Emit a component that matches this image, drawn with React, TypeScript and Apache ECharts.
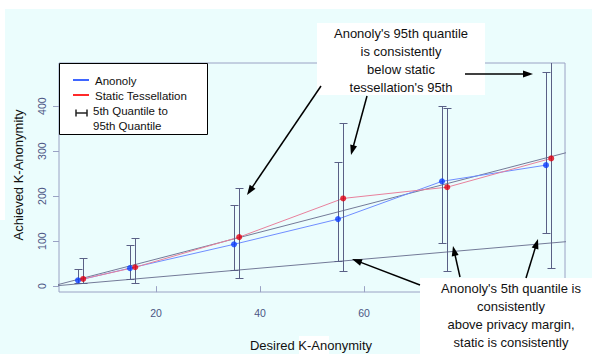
import React, { useEffect, useRef } from 'react';
import * as echarts from 'echarts';

// Anonoly (blue)
const anonK = [5, 15, 35, 55, 75, 95];
const anonMed = [13, 40, 93, 149, 233, 269];
const anonP5 = [7, 15, 36, 56, 95, 118];
const anonP95 = [38, 91, 180, 276, 400, 476];
// Static Tessellation (red)
const staticK = [6, 16, 36, 56, 76, 96];
const staticMed = [16, 42, 109, 195, 220, 284];
const staticP5 = [6, 7, 18, 33, 33, 40];
const staticP95 = [62, 107, 218, 363, 395, 520];
// reference lines: privacy margin y = x and y = 3x
const refX = [0, 100];
const marginY = [0, 100];
const tripleY = [0, 300];

const xTicks = [20, 40, 60, 80];
const yTicks = [0, 100, 200, 300, 400];

const FONT = '"Liberation Sans", Arial, Helvetica, sans-serif';
const AXIS_COLOR = '#9aa2c4';
const LABEL_COLOR = '#4b5584';
const BAR_COLOR = '#5a6086';

function arrow(x1: number, y1: number, x2: number, y2: number) {
  const dx = x2 - x1;
  const dy = y2 - y1;
  const len = Math.hypot(dx, dy);
  const ux = dx / len;
  const uy = dy / len;
  const hl = 10;
  const hw = 3.5;
  const bx = x2 - ux * hl;
  const by = y2 - uy * hl;
  return [
    {
      type: 'line',
      z: 110,
      shape: { x1, y1, x2: bx + ux * 2, y2: by + uy * 2 },
      style: { stroke: '#000', lineWidth: 1.5 },
    },
    {
      type: 'polygon',
      z: 111,
      shape: {
        points: [
          [x2, y2],
          [bx - uy * hw, by + ux * hw],
          [bx + uy * hw, by - ux * hw],
        ],
      },
      style: { fill: '#000' },
    },
  ];
}

function errorSeries(name: string, ks: number[], lo: number[], hi: number[]) {
  return {
    type: 'custom',
    name,
    clip: true,
    z: 3,
    data: ks.map((k, i) => [k, lo[i], hi[i]]),
    encode: { x: 0, y: [1, 2] },
    renderItem: (params: any, api: any) => {
      const x = api.value(0);
      const p1 = api.coord([x, api.value(1)]);
      const p2 = api.coord([x, api.value(2)]);
      const cx = Math.round(p1[0]) + 0.5;
      const y1 = Math.round(p1[1]) + 0.5;
      const y2 = Math.round(p2[1]) + 0.5;
      const w = 4;
      const style = { stroke: BAR_COLOR, lineWidth: 1, fill: null };
      return {
        type: 'group',
        children: [
          { type: 'line', shape: { x1: cx, y1, x2: cx, y2 }, style },
          { type: 'line', shape: { x1: cx - w, y1, x2: cx + w, y2: y1 }, style },
          { type: 'line', shape: { x1: cx - w, y1: y2, x2: cx + w, y2 }, style },
        ],
      };
    },
  };
}

function textLines(lines: string[], cx: number, y0: number, lh: number, size: number) {
  return lines.map((t, i) => ({
    type: 'text',
    z: 105,
    x: cx,
    y: y0 + i * lh,
    style: {
      text: t,
      fill: '#111',
      font: `${size}px ${FONT}`,
      textAlign: 'center',
      textVerticalAlign: 'middle',
    },
  }));
}

export default function App() {
  const ref = useRef<HTMLDivElement>(null);

  useEffect(() => {
    if (!ref.current) return;
    const chart = echarts.init(ref.current, undefined, { renderer: 'svg' });

    const legendText = (t: string, x: number, y: number) => ({
      type: 'text',
      z: 102,
      x,
      y,
      style: { text: t, fill: '#111', font: `11.5px ${FONT}`, textVerticalAlign: 'middle' },
    });

    const option: any = {
      animation: false,
      backgroundColor: '#ebfdfd',
      grid: {
        left: 59,
        top: 63,
        right: 27,
        bottom: 62,
        show: true,
        borderColor: AXIS_COLOR,
        borderWidth: 1,
        backgroundColor: 'transparent',
      },
      xAxis: {
        type: 'value',
        min: 1.35,
        max: 98.65,
        axisLine: { show: false },
        splitLine: { show: false },
        axisTick: { show: true, customValues: xTicks, length: 6, lineStyle: { color: AXIS_COLOR } },
        axisLabel: {
          customValues: xTicks,
          color: LABEL_COLOR,
          fontSize: 10.5,
          fontFamily: FONT,
          margin: 15,
        },
      },
      yAxis: {
        type: 'value',
        min: -13,
        max: 496,
        axisLine: { show: false },
        splitLine: { show: false },
        axisTick: { show: true, customValues: yTicks, length: 6, lineStyle: { color: AXIS_COLOR } },
        axisLabel: {
          customValues: yTicks,
          rotate: 90,
          color: LABEL_COLOR,
          fontSize: 10.5,
          fontFamily: FONT,
          margin: 12,
        },
      },
      series: [
        {
          type: 'line',
          name: 'margin',
          data: refX.map((x, i) => [x, marginY[i]]),
          symbol: 'none',
          clip: true,
          lineStyle: { color: '#737a98', width: 1 },
          z: 1,
        },
        {
          type: 'line',
          name: 'triple',
          data: refX.map((x, i) => [x, tripleY[i]]),
          symbol: 'none',
          clip: true,
          lineStyle: { color: '#737a98', width: 1 },
          z: 1,
        },
        {
          type: 'line',
          name: 'Anonoly line',
          data: anonK.map((k, i) => [k, anonMed[i]]),
          symbol: 'none',
          clip: true,
          lineStyle: { color: '#6f8dff', width: 1 },
          z: 2,
        },
        {
          type: 'line',
          name: 'Static line',
          data: staticK.map((k, i) => [k, staticMed[i]]),
          symbol: 'none',
          clip: true,
          lineStyle: { color: '#e8809c', width: 1 },
          z: 2,
        },
        errorSeries('Anonoly bars', anonK, anonP5, anonP95),
        errorSeries('Static bars', staticK, staticP5, staticP95),
        {
          type: 'scatter',
          name: 'Anonoly',
          data: anonK.map((k, i) => [k, anonMed[i]]),
          symbol: 'circle',
          symbolSize: 6,
          itemStyle: { color: '#0a3cff' },
          z: 5,
        },
        {
          type: 'scatter',
          name: 'Static Tessellation',
          data: staticK.map((k, i) => [k, staticMed[i]]),
          symbol: 'circle',
          symbolSize: 6,
          itemStyle: { color: '#e00010' },
          z: 5,
        },
      ],
      graphic: [
        // white margins of the original figure
        { type: 'rect', z: 50, shape: { x: 0, y: 0, width: 592, height: 9 }, style: { fill: '#fff' } },
        { type: 'rect', z: 50, shape: { x: 0, y: 0, width: 5, height: 220 }, style: { fill: '#fff' } },
        { type: 'rect', z: 50, shape: { x: 299, y: 336, width: 30, height: 18 }, style: { fill: '#fff' } },
        // axis titles
        {
          type: 'text',
          z: 60,
          x: 311,
          y: 345,
          style: {
            text: 'Desired K-Anonymity',
            fill: '#111',
            font: `13px ${FONT}`,
            textAlign: 'center',
            textVerticalAlign: 'middle',
          },
        },
        {
          type: 'text',
          z: 60,
          x: 18,
          y: 175,
          rotation: Math.PI / 2,
          style: {
            text: 'Achieved K-Anonymity',
            fill: '#111',
            font: `13px ${FONT}`,
            textAlign: 'center',
            textVerticalAlign: 'middle',
          },
        },
        // legend
        {
          type: 'rect',
          z: 100,
          shape: { x: 59.5, y: 63.5, width: 148, height: 71 },
          style: { fill: '#fff', stroke: '#000', lineWidth: 1 },
        },
        { type: 'line', z: 101, shape: { x1: 73, y1: 80, x2: 89, y2: 80 }, style: { stroke: '#3f66ff', lineWidth: 2 } },
        { type: 'line', z: 101, shape: { x1: 73, y1: 95, x2: 89, y2: 95 }, style: { stroke: '#ff2a2a', lineWidth: 2 } },
        { type: 'line', z: 101, shape: { x1: 76, y1: 113, x2: 87, y2: 113 }, style: { stroke: '#222', lineWidth: 1.5 } },
        { type: 'line', z: 101, shape: { x1: 76, y1: 109.5, x2: 76, y2: 116.5 }, style: { stroke: '#222', lineWidth: 1.5 } },
        { type: 'line', z: 101, shape: { x1: 87, y1: 109.5, x2: 87, y2: 116.5 }, style: { stroke: '#222', lineWidth: 1.5 } },
        legendText('Anonoly', 95, 81),
        legendText('Static Tessellation', 95, 96),
        legendText('5th Quantile to', 93, 111),
        legendText('95th Quantile', 93, 126),
        // top annotation
        { type: 'rect', z: 104, shape: { x: 317, y: 23, width: 168, height: 72 }, style: { fill: '#fff' } },
        ...textLines(
          ["Anonoly's 95th quantile", 'is consistently', 'below static', "tessellation's 95th"],
          401,
          33,
          18,
          13
        ),
        ...arrow(321, 86, 247, 195),
        ...arrow(367, 96, 351, 155),
        ...arrow(465, 74, 533, 74),
        // bottom annotation
        { type: 'rect', z: 104, shape: { x: 420, y: 278, width: 172, height: 76 }, style: { fill: '#fff' } },
        ...textLines(
          ["Anonoly's 5th quantile is", 'consistently', 'above privacy margin,', 'static is consistently'],
          511,
          288,
          18.3,
          13
        ),
        ...arrow(420, 285, 352, 259),
        ...arrow(460, 277, 453, 246),
        ...arrow(526, 278, 538, 239),
      ],
    };

    chart.setOption(option);
    return () => chart.dispose();
  }, []);

  return (
    <div
      ref={ref}
      style={{ position: 'fixed', left: 0, top: 0, width: 592, height: 354 }}
    />
  );
}
